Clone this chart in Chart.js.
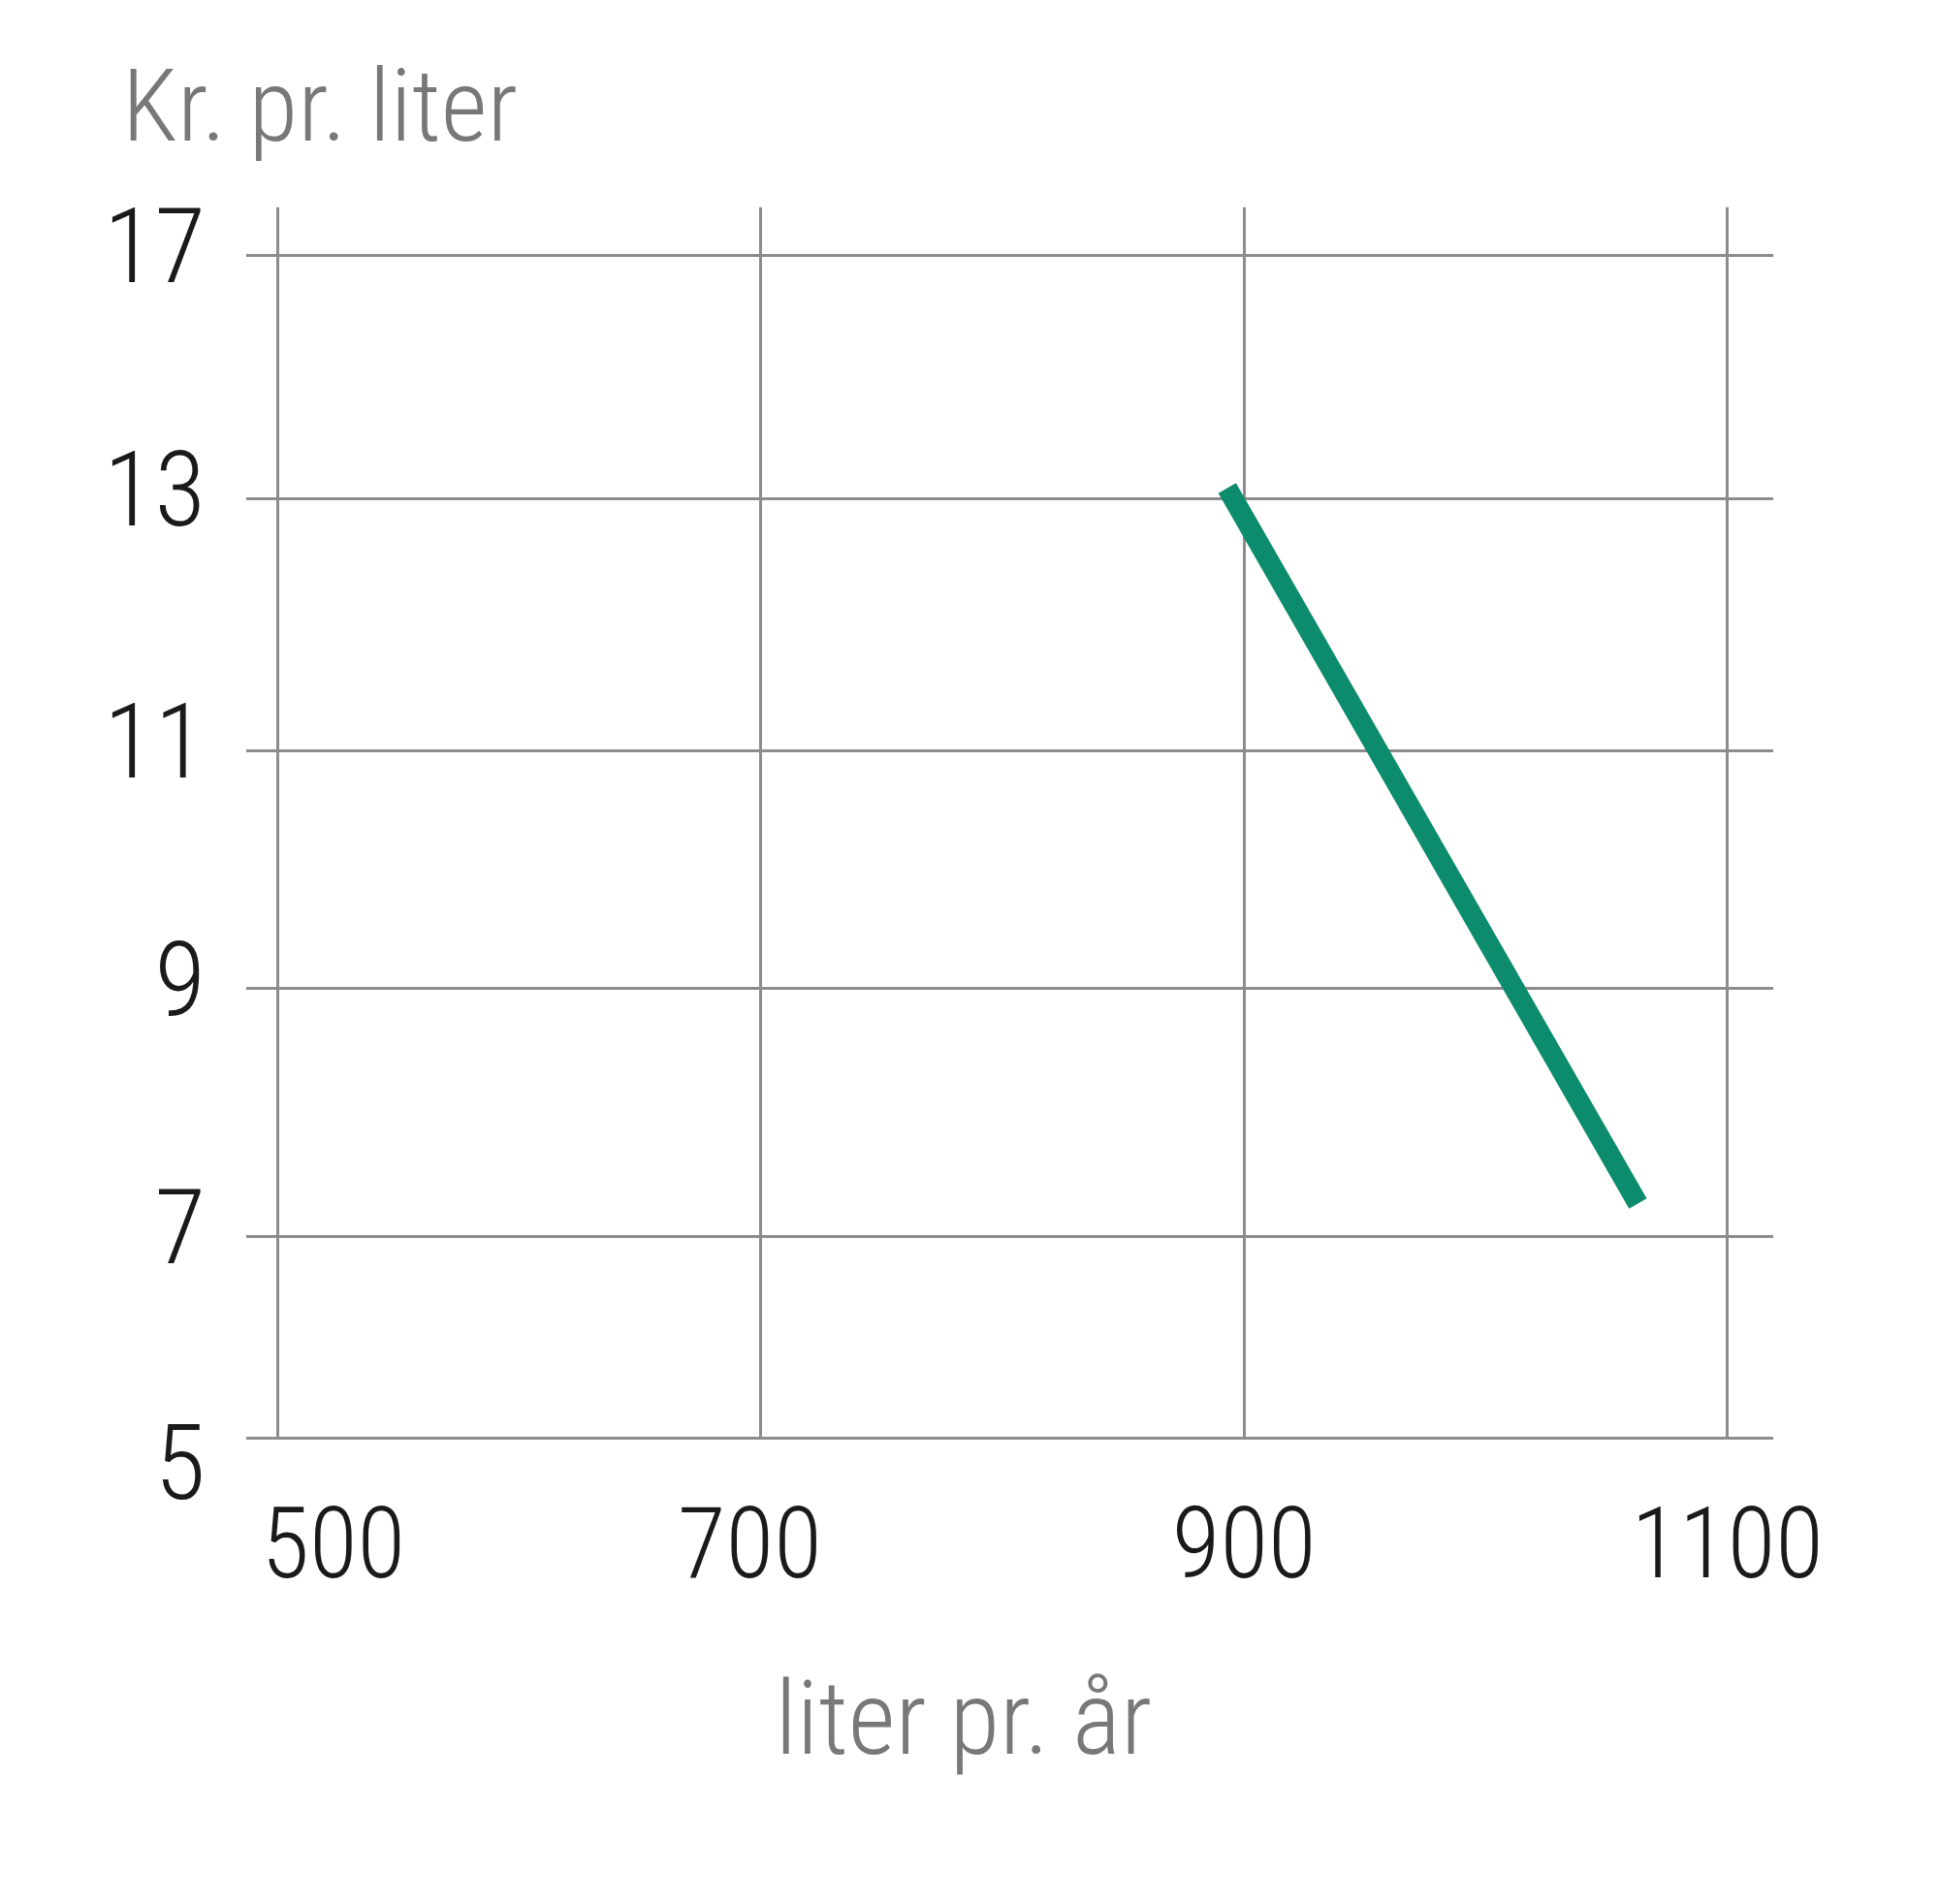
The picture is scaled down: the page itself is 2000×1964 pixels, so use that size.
<!DOCTYPE html>
<html>
<head>
<meta charset="utf-8">
<script src="https://cdn.jsdelivr.net/npm/chart.js@4.4.1/dist/chart.umd.min.js"></script>
<style>
  html, body { margin: 0; background: #fff; }
  #wrap { width: 2000px; height: 1964px; position: relative; }
</style>
</head>
<body>
<div id="wrap"><canvas id="chart"></canvas></div>
<script>
// values
const xTicks = [500, 700, 900, 1100];
const yTicks = [5, 7, 9, 11, 13, 17];
const litersPerYear = [893, 1063];
const pricePerLiter = [13.18, 7.27];

const FONT = '"Roboto Condensed", Roboto, sans-serif';
const GRID = '#8c8c8c';
const GREY_TEXT = '#787878';
const DARK_TEXT = '#1a1a1a';

// the y axis in the source is not to scale: every step between two ticks gets its own height
class StepScale extends Chart.LinearScale {
    static id = 'steps';

    _total() {
        return this.options.gaps.reduce((s, g) => s + g, 0) + this.options.headroom;
    }

    getPixelForValue(value) {
        const stops = this.options.stops;
        const gaps = this.options.gaps;
        let acc = 0;
        for (let i = 0; i < gaps.length; i++) {
            if (value <= stops[i + 1] || i === gaps.length - 1) {
                acc += (value - stops[i]) / (stops[i + 1] - stops[i]) * gaps[i];
                break;
            }
            acc += gaps[i];
        }
        return this.bottom - acc / this._total() * this.height;
    }

    getValueForPixel(pixel) {
        const stops = this.options.stops;
        const gaps = this.options.gaps;
        let d = (this.bottom - pixel) / this.height * this._total();
        for (let i = 0; i < gaps.length; i++) {
            if (d <= gaps[i] || i === gaps.length - 1) {
                return stops[i] + d / gaps[i] * (stops[i + 1] - stops[i]);
            }
            d -= gaps[i];
        }
    }
}
Chart.register(StepScale);

// the top title starts a bit in from the left edge, above the tick labels
const titleIndent = {
    id: 'titleIndent',
    afterLayout(chart, args, opts) {
        if (chart.titleBlock) chart.titleBlock.left = opts.left;
    }
};

const ctx = document.getElementById('chart');
new Chart(ctx, {
    type: 'line',
    data: {
        datasets: [{
            data: litersPerYear.map((x, i) => ({ x: x, y: pricePerLiter[i] })),
            borderColor: '#0c8c6c',
            borderWidth: 21,
            borderCapStyle: 'butt',
            pointRadius: 0,
            fill: false,
            tension: 0
        }]
    },
    plugins: [titleIndent],
    options: {
        devicePixelRatio: 1,
        responsive: true,
        maintainAspectRatio: false,
        animation: false,
        layout: { padding: { left: 0, right: 171, top: 0, bottom: 0 } },
        plugins: {
            legend: { display: false },
            tooltip: { enabled: false },
            titleIndent: { left: 126 },
            title: {
                display: true,
                text: 'Kr. pr. liter',
                align: 'start',
                color: GREY_TEXT,
                font: { family: FONT, size: 104, weight: 300, lineHeight: 1.2 },
                padding: { top: 57, bottom: 32 }
            }
        },
        scales: {
            x: {
                type: 'linear',
                min: 487,
                max: 1119,
                afterBuildTicks: s => { s.ticks = xTicks.map(v => ({ value: v })); },
                afterFit: s => { s.height = 481; },
                grid: { color: GRID, lineWidth: 3, drawTicks: false },
                border: { display: false },
                ticks: {
                    color: DARK_TEXT,
                    font: { family: FONT, size: 102, weight: 300, lineHeight: 1.2 },
                    padding: 57,
                    maxRotation: 0,
                    autoSkip: false,
                    // the first label sits right of its line, 700 a little left
                    callback: v => v === 500 ? '     ' + v : v === 700 ? v + ' ' : String(v)
                },
                title: {
                    display: true,
                    text: 'liter pr. år    ',
                    color: GREY_TEXT,
                    font: { family: FONT, size: 106, weight: 300, lineHeight: 1.2 },
                    padding: { top: 0, bottom: 118 }
                }
            },
            y: {
                type: 'steps',
                stops: yTicks,
                gaps: [207, 256, 245, 260, 251],
                headroom: 50,
                min: 5,
                max: 17,
                afterBuildTicks: s => { s.ticks = yTicks.map(v => ({ value: v })); },
                afterFit: s => { s.width = 254; },
                grid: { color: GRID, lineWidth: 3, drawTicks: false },
                border: { display: false },
                ticks: {
                    color: DARK_TEXT,
                    padding: 42,
                    autoSkip: false,
                    // 5 is printed a bit below the axis line
                    font: c => ({ family: FONT, size: 108, weight: 300, lineHeight: c.tick && c.tick.value === 5 ? 0.66 : 1.2 }),
                    callback: v => v === 5 ? ['', '5'] : String(v)
                }
            }
        }
    }
});
</script>
</body>
</html>
